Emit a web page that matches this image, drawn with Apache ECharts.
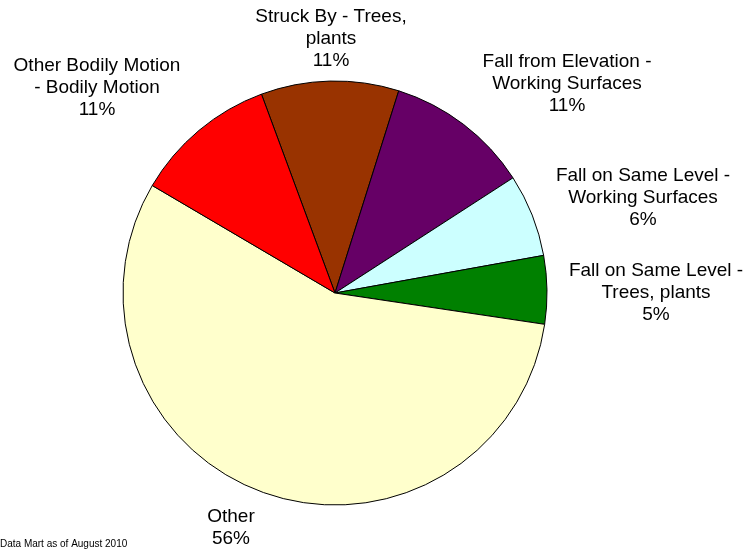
<!DOCTYPE html>
<html>
<head>
<meta charset="utf-8">
<script src="https://cdn.jsdelivr.net/npm/echarts@6/dist/echarts.min.js"></script>
<style>
html,body{margin:0;padding:0;background:#fff;}
#c{width:749px;height:550px;}
</style>
</head>
<body>
<div id="c"></div>
<script>
// Data
var categories = [
  "Struck By - Trees,\nplants",
  "Fall from Elevation -\nWorking Surfaces",
  "Fall on Same Level -\nWorking Surfaces",
  "Fall on Same Level -\nTrees, plants",
  "Other",
  "Other Bodily Motion\n- Bodily Motion"
];
var values = [10.5, 11.0, 6.3, 5.2, 56.1, 10.9];
var colors = ["#993300", "#660066", "#CCFFFF", "#008000", "#FFFFCC", "#FF0000"];
var footnote = "Data Mart as of August 2010";

// Label anchor positions (layout only)
var labelPos = [
  [331, 39], [567, 84], [643, 198], [656, 293], [231, 528], [97, 88]
];

var chart = echarts.init(document.getElementById('c'), null, {renderer: 'canvas'});
var data = categories.map(function (n, i) {
  return { name: n, value: values[i], itemStyle: { color: colors[i] } };
});
chart.setOption({
  animation: false,
  backgroundColor: '#fff',
  textStyle: { fontFamily: 'Liberation Sans, Arial, sans-serif' },
  graphic: [{
    type: 'text',
    left: 0,
    top: 539,
    style: { text: footnote, font: '10px "Liberation Sans", Arial, sans-serif', fill: '#000' }
  }],
  series: [{
    type: 'pie',
    center: [335, 293],
    radius: [0, 212],
    startAngle: 110.3,
    clockwise: true,
    percentPrecision: 0,
    data: data,
    itemStyle: { borderColor: '#000', borderWidth: 1 },
    emphasis: { disabled: true },
    labelLine: { show: false },
    label: {
      show: true,
      position: 'outside',
      formatter: '{b}\n{d}%',
      color: '#000',
      fontSize: 19,
      lineHeight: 22,
      align: 'center',
      overflow: 'none',
      width: 300,
      fontFamily: 'Liberation Sans, Arial, sans-serif'
    },
    labelLayout: function (p) {
      var pos = labelPos[p.dataIndex];
      return { x: pos[0], y: pos[1], align: 'center', verticalAlign: 'middle', hideOverlap: false, moveOverlap: false };
    }
  }]
});
</script>
</body>
</html>
